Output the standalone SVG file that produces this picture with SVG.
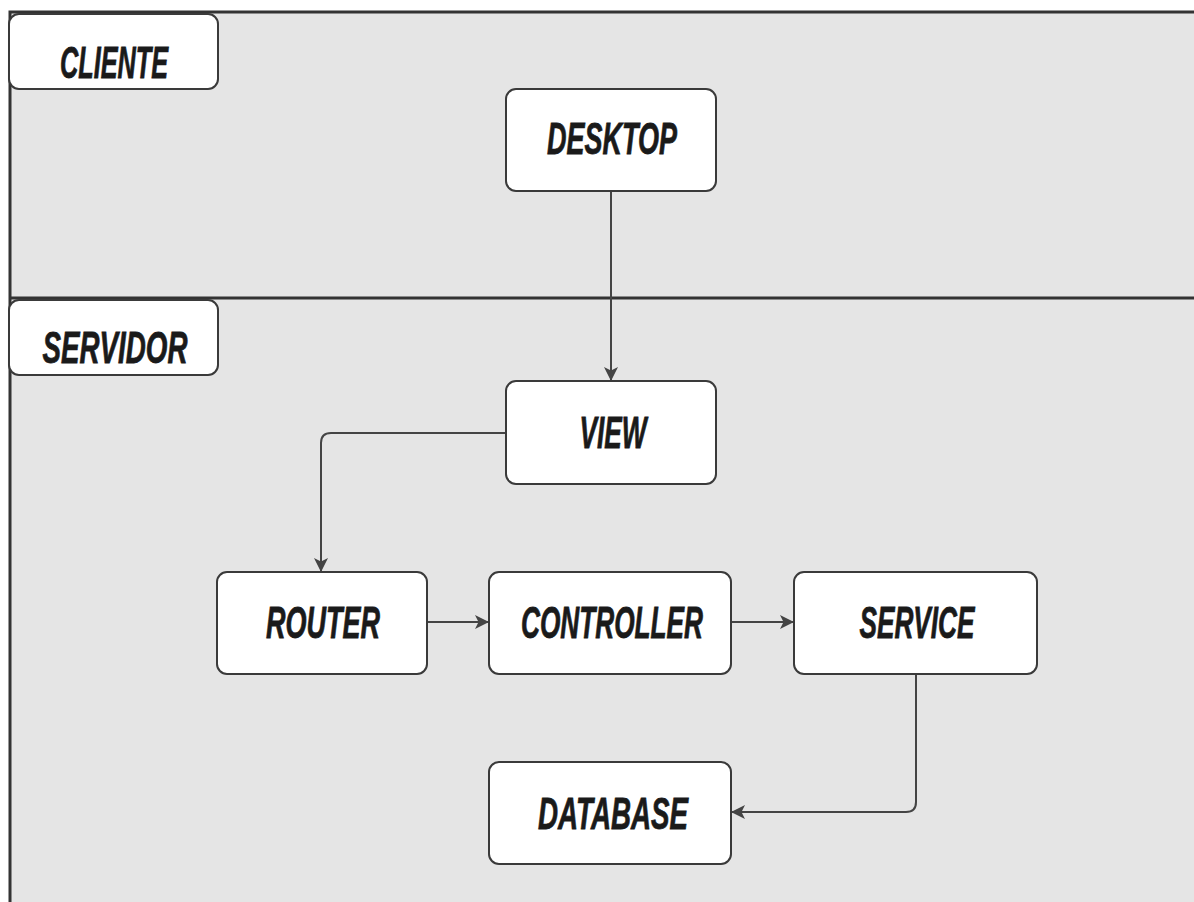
<svg xmlns="http://www.w3.org/2000/svg" width="1194" height="902" viewBox="0 0 1194 902">
  <defs>
    <style>
      .lane { fill: #e5e5e5; }
      .edge { stroke: #333; stroke-width: 3; fill: none; }
      .box { fill: #fff; stroke: #3a3a3a; stroke-width: 2; }
      .lbl { font-family: "Liberation Sans Narrow", "Liberation Sans", Arial, sans-serif; font-weight: bold; font-style: italic; font-size: 44px; fill: #1a1a1a; stroke: #1a1a1a; stroke-width: 0.8; text-anchor: middle; }
      .conn { stroke: #444; stroke-width: 2; fill: none; }
    </style>
    <marker id="arrow" viewBox="0 0 14 14" refX="13" refY="7" markerWidth="14" markerHeight="14" markerUnits="userSpaceOnUse" orient="auto">
      <path d="M0,0 L14,7 L0,14 L3.5,7 Z" fill="#444"/>
    </marker>
  </defs>

  <rect width="1194" height="902" fill="#fff"/>

  <!-- swimlanes -->
  <g id="lanes">
    <rect class="lane" x="10" y="12" width="1184" height="890"/>
    <path class="edge" d="M10,902 V12 H1194"/>
    <path class="edge" d="M10,298 H1194"/>
  </g>

  <!-- lane titles -->
  <g id="lane-cliente">
    <rect class="box" x="9" y="14" width="209" height="75" rx="10"/>
    <text class="lbl" x="114" y="78" textLength="108" lengthAdjust="spacingAndGlyphs">CLIENTE</text>
  </g>
  <g id="lane-servidor">
    <rect class="box" x="9" y="300" width="209" height="75" rx="10"/>
    <text class="lbl" x="115" y="363" textLength="145" lengthAdjust="spacingAndGlyphs">SERVIDOR</text>
  </g>

  <!-- connectors -->
  <g id="connectors">
    <path class="conn" d="M611,192 V380" marker-end="url(#arrow)"/>
    <path class="conn" d="M506,433 H331 Q321,433 321,443 V571" marker-end="url(#arrow)"/>
    <path class="conn" d="M428,622 H488" marker-end="url(#arrow)"/>
    <path class="conn" d="M732,622 H793" marker-end="url(#arrow)"/>
    <path class="conn" d="M916,675 V802 Q916,812 906,812 H732" marker-end="url(#arrow)"/>
  </g>

  <!-- nodes -->
  <g id="desktop">
    <rect class="box" x="506" y="89" width="210" height="102" rx="10"/>
    <text class="lbl" x="612" y="154" textLength="130" lengthAdjust="spacingAndGlyphs">DESKTOP</text>
  </g>
  <g id="view">
    <rect class="box" x="506" y="381" width="210" height="103" rx="10"/>
    <text class="lbl" x="613" y="448" textLength="67" lengthAdjust="spacingAndGlyphs">VIEW</text>
  </g>
  <g id="router">
    <rect class="box" x="217" y="572" width="210" height="102" rx="10"/>
    <text class="lbl" x="323" y="638" textLength="114" lengthAdjust="spacingAndGlyphs">ROUTER</text>
  </g>
  <g id="controller">
    <rect class="box" x="489" y="572" width="242" height="102" rx="10"/>
    <text class="lbl" x="612" y="638" textLength="182" lengthAdjust="spacingAndGlyphs">CONTROLLER</text>
  </g>
  <g id="service">
    <rect class="box" x="794" y="572" width="243" height="102" rx="10"/>
    <text class="lbl" x="917" y="638" textLength="115" lengthAdjust="spacingAndGlyphs">SERVICE</text>
  </g>
  <g id="database">
    <rect class="box" x="489" y="762" width="242" height="102" rx="10"/>
    <text class="lbl" x="613" y="829" textLength="150" lengthAdjust="spacingAndGlyphs">DATABASE</text>
  </g>
</svg>
